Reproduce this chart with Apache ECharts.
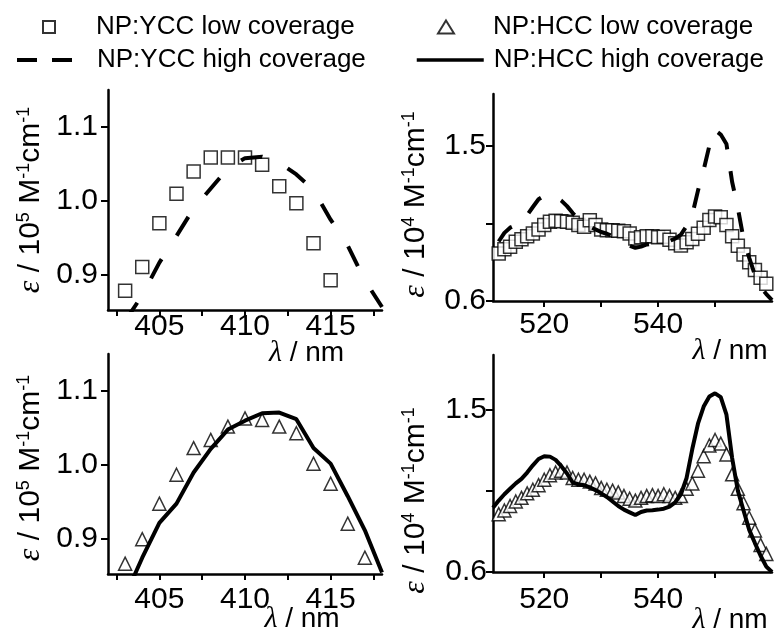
<!DOCTYPE html>
<html>
<head>
<meta charset="utf-8">
<script src="https://cdn.jsdelivr.net/npm/echarts@6.0.0/dist/echarts.min.js"></script>
<style>
  html, body { margin: 0; padding: 0; background: #fff; }
  #chart { width: 775px; height: 632px; }
</style>
</head>
<body>
<div id="chart"></div>
<script>
// Soret band (left) and Q bands (right), extinction coefficient vs wavelength

// ---- Soret band, wavelengths in nm ----
const soretLowX = [403, 404, 405, 406, 407, 408, 409, 410, 411, 412, 413, 414, 415];
const yccSoretLow = [0.879, 0.911, 0.970, 1.010, 1.040, 1.059, 1.059, 1.059, 1.049, 1.020, 0.997, 0.943, 0.893];

const soretLineX = [403, 404, 405, 406, 407, 408, 409, 410, 411, 412, 413, 414, 415, 416, 417, 418];
const yccSoretHigh = [0.838, 0.873, 0.917, 0.953, 0.990, 1.017, 1.044, 1.058, 1.060, 1.052, 1.036, 1.015, 0.975, 0.940, 0.893, 0.857];

const hccSoretLowX = [403, 404, 405, 406, 407, 408, 409, 410, 411, 412, 413, 414, 415, 416, 417];
const hccSoretLow = [0.867, 0.900, 0.948, 0.987, 1.023, 1.034, 1.052, 1.063, 1.061, 1.052, 1.043, 1.002, 0.975, 0.921, 0.875];
const hccSoretHigh = [0.823, 0.875, 0.922, 0.948, 0.990, 1.022, 1.048, 1.060, 1.070, 1.071, 1.062, 1.023, 1.002, 0.958, 0.912, 0.855];

// ---- Q bands, wavelengths in nm ----
const qLowX = [512, 513, 514, 515, 516, 517, 518, 519, 520, 521, 522, 523,
               524, 525, 526, 527, 528, 529, 530, 531, 532, 533, 534, 535,
               536, 537, 538, 539, 540, 541, 542, 543, 544, 545, 546, 547,
               548, 549, 550, 551, 552, 553, 554, 555, 556, 557, 558, 559];
const yccQLow = [0.875, 0.900, 0.915, 0.943, 0.958, 0.975, 0.992, 1.015, 1.040, 1.060, 1.065, 1.062,
                 1.060, 1.053, 1.040, 1.030, 1.068, 1.040, 1.015, 1.010, 1.010, 1.007, 1.005, 0.992,
                 0.962, 0.970, 0.975, 0.976, 0.970, 0.972, 0.955, 0.935, 0.922, 0.940, 0.960, 0.990,
                 1.025, 1.070, 1.090, 1.085, 1.040, 0.975, 0.920, 0.870, 0.825, 0.780, 0.735, 0.700];
const hccQLow = [0.920, 0.940, 0.965, 0.990, 1.010, 1.035, 1.055, 1.080, 1.110, 1.135, 1.150, 1.160,
                 1.150, 1.120, 1.110, 1.110, 1.100, 1.090, 1.065, 1.055, 1.050, 1.040, 1.020, 1.005,
                 0.995, 1.010, 1.020, 1.025, 1.020, 1.030, 1.020, 1.010, 1.020, 1.060, 1.090, 1.160,
                 1.240, 1.300, 1.330, 1.310, 1.250, 1.140, 1.060, 0.980, 0.900, 0.830, 0.750, 0.700];

const yccQHighX = [512, 513, 514, 515, 516, 517, 518, 519, 520, 521, 522, 523,
                   524, 525, 526, 527, 528, 529, 530, 531, 532, 533, 534, 535,
                   536, 537, 538, 539, 540, 541, 542, 543, 544, 545, 546, 547,
                   548, 549, 550, 551, 552, 553, 554, 555, 556, 557, 558, 559, 560];
const yccQHigh = [0.945, 0.995, 1.025, 1.040, 1.060, 1.098, 1.145, 1.190, 1.210, 1.214, 1.205, 1.182,
                  1.150, 1.110, 1.075, 1.048, 1.032, 1.015, 1.000, 0.990, 0.975, 0.960, 0.942, 0.920,
                  0.908, 0.915, 0.928, 0.932, 0.935, 0.940, 0.948, 0.962, 0.985, 1.035, 1.100, 1.240,
                  1.360, 1.500, 1.590, 1.565, 1.510, 1.290, 1.140, 0.960, 0.850, 0.750, 0.680, 0.640, 0.605];

const hccQHighX = [511, 512, 513, 514, 515, 516, 517, 518, 519, 520, 521, 522, 523,
                   524, 525, 526, 527, 528, 529, 530, 531, 532, 533, 534, 535,
                   536, 537, 538, 539, 540, 541, 542, 543, 544, 545, 546, 547,
                   548, 549, 550, 551, 552, 553, 554, 555, 556, 557, 558, 559, 560];
const hccQHigh = [0.955, 0.995, 1.030, 1.060, 1.090, 1.115, 1.150, 1.190, 1.225, 1.240, 1.238, 1.220, 1.185,
                  1.145, 1.095, 1.085, 1.080, 1.068, 1.053, 1.035, 1.015, 0.990, 0.965, 0.945, 0.930,
                  0.915, 0.932, 0.940, 0.942, 0.945, 0.950, 0.962, 0.985, 1.030, 1.120, 1.280, 1.420,
                  1.515, 1.570, 1.588, 1.567, 1.470, 1.230, 1.050, 0.940, 0.833, 0.760, 0.690, 0.630, 0.600];

// ---- ticks and labels ----
const soretTicks = [402.5, 405, 407.5, 410, 412.5, 415, 417.5];
const soretLabels = [405, 410, 415];
const qTicks = [520, 530, 540, 550];
const qLabels = [520, 540];
const soretYTicks = [0.9, 1.0, 1.1];
const soretYLabels = [0.9, 1.0, 1.1];
const qYTicks = [0.6, 1.05, 1.5];
const qYLabels = [0.6, 1.5];

const NAMES = {
  yccLow: 'NP:YCC low coverage',
  yccHigh: 'NP:YCC high coverage',
  hccLow: 'NP:HCC low coverage',
  hccHigh: 'NP:HCC high coverage'
};

const SANS = 'Liberation Sans, Arial, sans-serif';
const SERIF = 'Liberation Serif, Times New Roman, serif';

function pairs(xs, ys) { return xs.map((x, i) => [x, ys[i]]); }

const axisLine = { show: true, onZero: false, lineStyle: { color: '#000', width: 2.5 } };

function xAxis(gridIndex, min, max, ticks, labels, nameGap, shift, margin) {
  return {
    type: 'value', gridIndex, min, max,
    axisLine,
    splitLine: { show: false },
    axisTick: { show: true, inside: false, length: 6, customValues: ticks, lineStyle: { color: '#000', width: 2 } },
    axisLabel: { customValues: labels, color: '#000', fontSize: 30, fontFamily: SANS, margin },
    name: '{l|λ} / nm',
    nameLocation: 'middle',
    nameGap,
    nameMoveOverlap: false,
    nameTextStyle: {
      color: '#000', fontSize: 28, fontFamily: SANS, padding: [0, 0, 0, shift],
      rich: { l: { fontFamily: SERIF, fontStyle: 'italic', fontSize: 30, color: '#000' } }
    }
  };
}

function yAxis(gridIndex, min, max, ticks, labels, power, down, margin) {
  return {
    type: 'value', gridIndex, min, max,
    axisLine,
    splitLine: { show: false },
    axisTick: { show: true, inside: false, length: 7, customValues: ticks, lineStyle: { color: '#000', width: 2 } },
    axisLabel: {
      customValues: labels, color: '#000', fontSize: 30, fontFamily: SANS, margin,
      formatter: v => v.toFixed(1)
    },
    name: '{e|ε} / 10{s|' + power + '} M{s|-1}cm{s|-1}',
    nameLocation: 'middle',
    nameGap: 61,
    nameMoveOverlap: false,
    nameTextStyle: {
      color: '#000', fontSize: 30, fontFamily: SANS, padding: [0, down, 0, 0],
      rich: {
        e: { fontFamily: SERIF, fontStyle: 'italic', fontSize: 32, color: '#000' },
        s: { fontSize: 18, fontFamily: SANS, verticalAlign: 'top', color: '#000' }
      }
    }
  };
}

const markerStyle = { color: '#fff', borderColor: '#000', borderWidth: 1.5 };

function scatter(name, idx, symbol, data) {
  return {
    type: 'scatter', name, xAxisIndex: idx, yAxisIndex: idx,
    symbol, symbolSize: 13, symbolKeepAspect: true,
    itemStyle: markerStyle, data, z: 2
  };
}

function line(name, idx, dash, data) {
  return {
    type: 'line', name, xAxisIndex: idx, yAxisIndex: idx,
    symbol: 'none', showSymbol: false, clip: true,
    lineStyle: { color: '#000', width: 4, type: dash },
    itemStyle: { color: '#000' },
    data, z: 3
  };
}

const legendText = (pad) => ({ color: '#000', fontSize: 26, fontFamily: SANS, lineHeight: 30, padding: [0, 0, 0, pad] });
// line keys carry no symbol
const noSymbol = { color: 'rgba(0,0,0,0)', borderWidth: 0, opacity: 0 };

const option = {
  animation: false,
  backgroundColor: '#fff',
  grid: [
    { left: 108, top: 90, width: 274, height: 220, outerBoundsMode: 'none' },
    { left: 493, top: 94, width: 279, height: 207, outerBoundsMode: 'none' },
    { left: 108, top: 354, width: 274, height: 220, outerBoundsMode: 'none' },
    { left: 493, top: 355, width: 279, height: 217, outerBoundsMode: 'none' }
  ],
  legend: [
    { data: [NAMES.yccLow], left: 42, top: 12, orient: 'vertical', padding: 0, selectedMode: false,
      itemWidth: 12, itemHeight: 12, textStyle: legendText(36) },
    { data: [NAMES.yccHigh], left: 15, top: 45, orient: 'vertical', padding: 0, selectedMode: false,
      itemWidth: 56, itemHeight: 13, itemStyle: noSymbol,
      lineStyle: { type: [20, 15], width: 4, color: '#000' }, textStyle: legendText(19) },
    { data: [NAMES.hccLow], left: 437, top: 12, orient: 'vertical', padding: 0, selectedMode: false,
      itemWidth: 16, itemHeight: 13, textStyle: legendText(34) },
    { data: [NAMES.hccHigh], left: 415, top: 45, orient: 'vertical', padding: 0, selectedMode: false,
      itemWidth: 67, itemHeight: 13, itemStyle: noSymbol,
      lineStyle: { type: 'solid', width: 3.5, color: '#000' }, textStyle: legendText(5) }
  ],
  xAxis: [
    xAxis(0, 402, 418, soretTicks, soretLabels, 28, 123, 2),
    xAxis(1, 511, 560, qTicks, qLabels, 35, 195, 9),
    xAxis(2, 402, 418, soretTicks, soretLabels, 30, 114, 11),
    xAxis(3, 511, 560, qTicks, qLabels, 33, 195, 13)
  ],
  yAxis: [
    yAxis(0, 0.853, 1.15, soretYTicks, soretYLabels, 5, 0, 10),
    yAxis(1, 0.6, 1.8, qYTicks, qYLabels, 4, 14, 7),
    yAxis(2, 0.853, 1.15, soretYTicks, soretYLabels, 5, 8, 10),
    yAxis(3, 0.6, 1.8, qYTicks, qYLabels, 4, 74, 6)
  ],
  series: [
    scatter(NAMES.yccLow, 0, 'rect', pairs(soretLowX, yccSoretLow)),
    line(NAMES.yccHigh, 0, [22, 28], pairs(soretLineX, yccSoretHigh)),
    scatter(NAMES.yccLow, 1, 'rect', pairs(qLowX, yccQLow)),
    line(NAMES.yccHigh, 1, [20, 22], pairs(yccQHighX, yccQHigh)),
    scatter(NAMES.hccLow, 2, 'triangle', pairs(hccSoretLowX, hccSoretLow)),
    line(NAMES.hccHigh, 2, 'solid', pairs(soretLineX, hccSoretHigh)),
    scatter(NAMES.hccLow, 3, 'triangle', pairs(qLowX, hccQLow)),
    line(NAMES.hccHigh, 3, 'solid', pairs(hccQHighX, hccQHigh))
  ]
};

const chart = echarts.init(document.getElementById('chart'), null, { renderer: 'canvas' });
chart.setOption(option);
</script>
</body>
</html>
